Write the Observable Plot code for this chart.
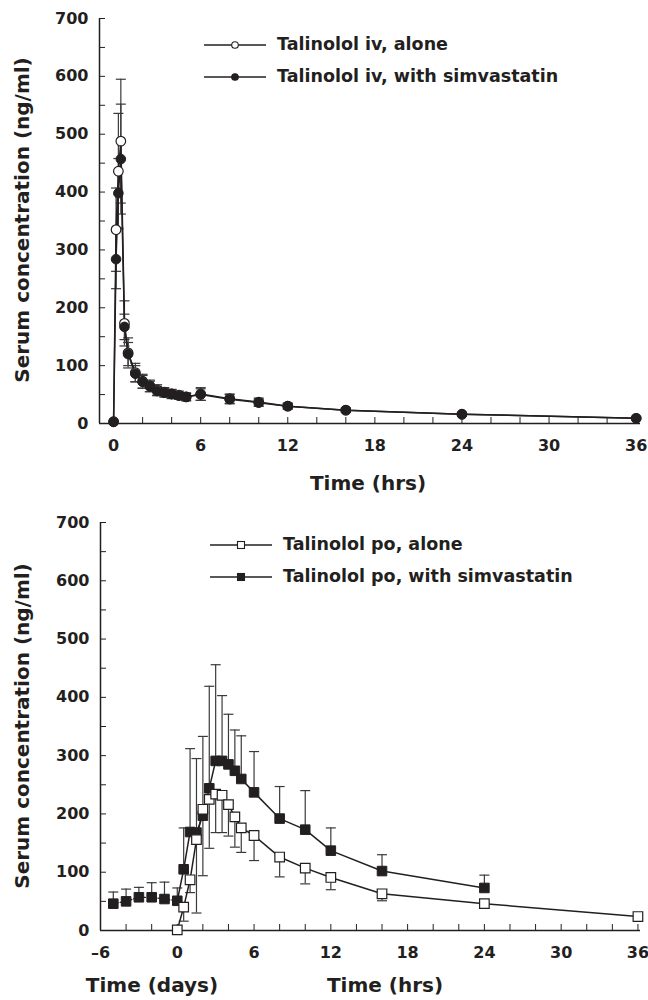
<!DOCTYPE html>
<html><head><meta charset="utf-8">
<script src="https://cdn.jsdelivr.net/npm/d3@7"></script>
<script src="https://cdn.jsdelivr.net/npm/@observablehq/plot@0.6"></script>
<style>
body{margin:0;background:#fff;font-family:"DejaVu Sans",sans-serif;color:#231f20;}
.panel{position:relative;width:648px;height:500px;}
.panel svg{display:block;}
.legend{position:absolute;font-weight:700;font-size:17.5px;line-height:1;}
.legend .row{display:flex;align-items:center;height:18px;margin-bottom:14px;}
.legend .row svg{margin-right:11px;}
.xlab{position:absolute;font-weight:700;font-size:20px;white-space:nowrap;transform:translateX(-50%);}
.ylab{position:absolute;font-weight:700;font-size:20px;white-space:nowrap;transform:translate(-50%,-50%) rotate(-90deg);}
</style>
</head><body>
<div id="top" class="panel"></div>
<div id="bot" class="panel"></div>
<script>
// ---------- data: intravenous (top panel) ----------
const ivTime      = [0, 0.17, 0.33, 0.5, 0.75, 1, 1.5, 2, 2.5, 3, 3.5, 4, 4.5, 5, 6, 8, 10, 12, 16, 24, 36];
const ivAlone     = [3, 335, 436, 488, 173, 122, 88, 73, 65, 58, 54, 51, 49, 46, 51, 43, 37, 30, 23, 16, 9];
const ivAloneSd   = [0, 72, 100, 107, 39, 26, 16, 12, 10, 9, 8, 8, 7, 7, 11, 8, 7, 5, 4, 3, 2];
const ivWith      = [3, 284, 398, 457, 167, 120, 86, 72, 64, 56, 53, 51, 48, 46, 50, 42, 36, 30, 23, 16, 9];
const ivWithSd    = [0, 51, 60, 95, 22, 20, 14, 11, 9, 8, 7, 7, 6, 6, 10, 8, 6, 5, 3, 3, 2];

// ---------- data: oral (bottom panel) ----------
const poDays      = [-5, -4, -3, -2, -1, 0];
const poDaysWith  = [46, 50, 57, 57, 54, 51];
const poDaysSd    = [20, 21, 17, 25, 29, 22];
const poTime      = [0, 0.5, 1, 1.5, 2, 2.5, 3, 3.5, 4, 4.5, 5, 6, 8, 10, 12, 16, 24, 36];
const poAlone     = [1, 40, 87, 156, 208, 225, 234, 232, 216, 195, 176, 163, 126, 107, 91, 63, 46, 24];
const poAloneSdLo = [0, 24, 22, 126, 114, 84, 66, 64, 54, 52, 42, 43, 34, 27, 21, 12, 8, 4];
const poWithTime  = [0, 0.5, 1, 1.5, 2, 2.5, 3, 3.5, 4, 4.5, 5, 6, 8, 10, 12, 16, 24];
const poWith      = [51, 105, 169, 168, 197, 244, 291, 291, 285, 274, 260, 237, 192, 173, 137, 102, 73];
const poWithSdUp  = [22, 71, 143, 127, 136, 175, 165, 112, 86, 70, 74, 70, 55, 67, 39, 28, 22];

// ---------- ticks & labels ----------
const yMajor = [0, 100, 200, 300, 400, 500, 600, 700];
const yMinor = d3.range(0, 701, 50);
const xTopMajor = [0, 6, 12, 18, 24, 30, 36];
const xTopMinor = d3.range(0, 37, 2);
const xBotMajor = [-6, 0, 6, 12, 18, 24, 30, 36];
const xBotMinor = d3.range(-4, 37, 2);
const yTitle = "Serum concentration (ng/ml)";
const legendTop = ["Talinolol iv, alone", "Talinolol iv, with simvastatin"];
const legendBot = ["Talinolol po, alone", "Talinolol po, with simvastatin"];

const INK = "#231f20";
const BAR = "#3a3a3a";
const FONT = "'DejaVu Sans', sans-serif";

const cap = {draw(ctx, size) { const w = Math.sqrt(size / Math.PI); ctx.moveTo(-w, 0); ctx.lineTo(w, 0); }};

const rec = (xs, ys, sdUp, sdLo) => xs.map((x, i) => ({x, y: ys[i], hi: ys[i] + (sdUp ? sdUp[i] : 0), lo: ys[i] - (sdLo ? sdLo[i] : 0)}));

function errMarks(data, up, lo) {
  const m = [];
  if (up) {
    const d = data.filter(r => r.hi > r.y);
    m.push(Plot.ruleX(d, {x: "x", y1: "y", y2: "hi", stroke: BAR, strokeWidth: 1.2}));
    m.push(Plot.dot(d, {x: "x", y: "hi", symbol: cap, r: 5, stroke: BAR, strokeWidth: 1.2, fill: "none"}));
  }
  if (lo) {
    const d = data.filter(r => r.lo < r.y);
    m.push(Plot.ruleX(d, {x: "x", y1: "y", y2: "lo", stroke: BAR, strokeWidth: 1.2}));
    m.push(Plot.dot(d, {x: "x", y: "lo", symbol: cap, r: 5, stroke: BAR, strokeWidth: 1.2, fill: "none"}));
  }
  return m;
}

function axes(xDomainMin, xMajor, xMinor, fmtX) {
  return [
    Plot.axisY({ticks: yMajor, tickSize: 0, tickPadding: 11, fontSize: 16, fontWeight: "bold", fill: INK, label: null}),
    Plot.axisY({ticks: yMinor, tickSize: -6, tickFormat: () => "", stroke: INK, label: null}),
    Plot.axisX({ticks: xMajor, tickSize: 0, tickPadding: 16, fontSize: 16, fontWeight: "bold", fill: INK, label: null, tickFormat: fmtX}),
    Plot.axisX({ticks: xMinor, tickSize: -6, tickFormat: () => "", stroke: INK, label: null}),
    Plot.ruleX([xDomainMin], {stroke: INK, strokeWidth: 1.5}),
    Plot.ruleY([0], {stroke: INK, strokeWidth: 1.5})
  ];
}

// ---------- top panel ----------
const topAlone = rec(ivTime, ivAlone, ivAloneSd, ivAloneSd);
const topWith  = rec(ivTime, ivWith, ivWithSd, ivWithSd);
const xTopDom = [-0.97, 36.3];
const topPlot = Plot.plot({
  width: 648, height: 500,
  marginLeft: 99, marginRight: 8, marginTop: 18, marginBottom: 77,
  style: {fontFamily: FONT, color: INK, background: "white"},
  x: {domain: xTopDom},
  y: {domain: [0, 700]},
  marks: [
    ...axes(xTopDom[0], xTopMajor, xTopMinor, d => String(d)),
    ...errMarks(topAlone, true, true),
    ...errMarks(topWith, true, true),
    Plot.line(topAlone, {x: "x", y: "y", stroke: INK, strokeWidth: 1.5}),
    Plot.line(topWith, {x: "x", y: "y", stroke: INK, strokeWidth: 1.5}),
    Plot.dot(topAlone, {x: "x", y: "y", r: 4.8, fill: "white", stroke: INK, strokeWidth: 1.2}),
    Plot.dot(topWith, {x: "x", y: "y", r: 4.8, fill: INK, stroke: INK, strokeWidth: 1})
  ]
});
document.getElementById("top").appendChild(topPlot);

// ---------- bottom panel ----------
const botAlone = rec(poTime, poAlone, null, poAloneSdLo);
const botWith  = rec(poWithTime, poWith, poWithSdUp, null);
const botDays  = rec(poDays, poDaysWith, poDaysSd, null);
const xBotDom = [-6, 36.2];
const botPlot = Plot.plot({
  width: 648, height: 500,
  marginLeft: 100, marginRight: 8, marginTop: 22, marginBottom: 70,
  style: {fontFamily: FONT, color: INK, background: "white"},
  x: {domain: xBotDom},
  y: {domain: [0, 700]},
  marks: [
    ...axes(xBotDom[0], xBotMajor, xBotMinor, d => d < 0 ? "\u2013" + Math.abs(d) : String(d)),
    ...errMarks(botDays.filter(d => d.x < 0), true, false),
    ...errMarks(botWith, true, false),
    ...errMarks(botAlone, false, true),
    Plot.line(botDays, {x: "x", y: "y", stroke: INK, strokeWidth: 1.3, strokeDasharray: "1.5,2"}),
    Plot.line(botWith, {x: "x", y: "y", stroke: INK, strokeWidth: 1.5}),
    Plot.line(botAlone, {x: "x", y: "y", stroke: INK, strokeWidth: 1.5}),
    Plot.dot(botDays.filter(d => d.x < 0), {x: "x", y: "y", symbol: "square", r: 5.4, fill: INK, stroke: INK, strokeWidth: 1}),
    Plot.dot(botWith, {x: "x", y: "y", symbol: "square", r: 5.4, fill: INK, stroke: INK, strokeWidth: 1}),
    Plot.dot(botAlone, {x: "x", y: "y", symbol: "square", r: 5.4, fill: "white", stroke: INK, strokeWidth: 1.2})
  ]
});
document.getElementById("bot").appendChild(botPlot);

// ---------- overlays: legends and axis titles ----------
function swatch(symbol, filled) {
  const s = d3.create("svg").attr("width", 62).attr("height", 14);
  s.append("line").attr("x1", 0).attr("x2", 62).attr("y1", 7).attr("y2", 7).attr("stroke", INK).attr("stroke-width", 1.3);
  if (symbol === "circle") s.append("circle").attr("cx", 31).attr("cy", 7).attr("r", 3.3).attr("fill", filled ? INK : "white").attr("stroke", INK).attr("stroke-width", 1.1);
  else s.append("rect").attr("x", 27.5).attr("y", 3.5).attr("width", 7).attr("height", 7).attr("fill", filled ? INK : "white").attr("stroke", INK).attr("stroke-width", 1.1);
  return s.node();
}
function legend(panel, labels, symbol, left, top) {
  const box = document.createElement("div");
  box.className = "legend"; box.style.left = left + "px"; box.style.top = top + "px";
  labels.forEach((t, i) => {
    const row = document.createElement("div"); row.className = "row";
    row.appendChild(swatch(symbol, i === 1));
    const sp = document.createElement("span"); sp.textContent = t; row.appendChild(sp);
    box.appendChild(row);
  });
  document.getElementById(panel).appendChild(box);
}
function label(panel, cls, text, x, y) {
  const d = document.createElement("div"); d.className = cls; d.textContent = text;
  d.style.left = x + "px"; d.style.top = y + "px";
  document.getElementById(panel).appendChild(d);
}
legend("top", legendTop, "circle", 204, 36);
legend("bot", legendBot, "square", 210, 36);
label("top", "ylab", yTitle, 22, 220);
label("bot", "ylab", yTitle, 22, 226);
label("top", "xlab", "Time (hrs)", 368, 471);
label("bot", "xlab", "Time (days)", 152, 473);
label("bot", "xlab", "Time (hrs)", 385, 473);
</script>
</body></html>
